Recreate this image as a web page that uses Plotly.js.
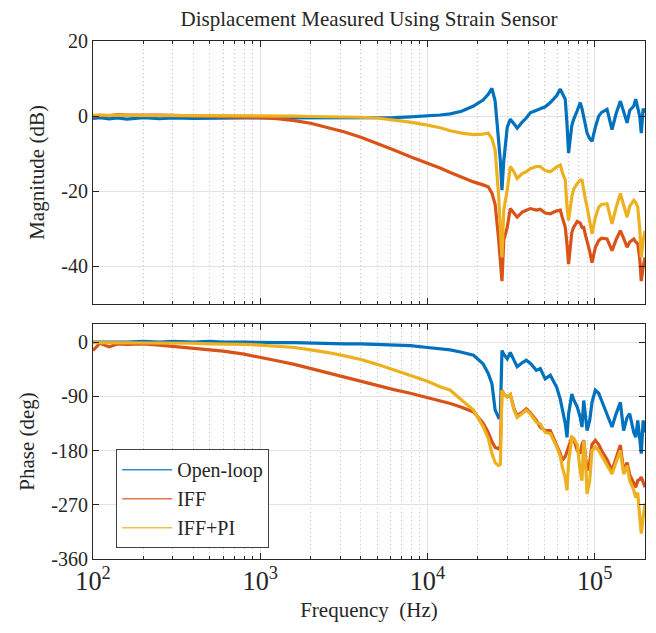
<!DOCTYPE html>
<html>
<head>
<meta charset="utf-8">
<script src="https://cdn.plot.ly/plotly-3.0.1.min.js"></script>
<style>html,body{margin:0;padding:0;background:#fff;}#chart{width:656px;height:633px;}</style>
</head>
<body>
<div id="chart"></div>
<script>
// Frequency (Hz)
const freq = [100,110,125,140,160,200,250,300,400,500,600,800,1000,1260,1600,2000,2500,3200,4000,5000,6300,7900,10000,11900,13700,16000,18850,21500,23100,24300,25400,26600,27300,27900,28600,30000,31300,32900,34400,37000,39000,41200,44800,47300,50600,54300,59300,62300,64100,66700,68300,69800,73000,74800,78700,82000,84000,86000,87900,90100,93400,96400,100900,105700,110000,118600,127000,134000,142500,149000,156300,162000,171400,176000,181000,186000,190000,195000,200000];

// Magnitude (dB)
const magOpenLoop = [-0.6,-0.4,-0.7,-0.5,-0.8,-0.4,-0.7,-0.5,-0.6,-0.5,-0.6,-0.5,-0.5,-0.5,-0.6,-0.5,-0.5,-0.6,-0.5,-0.5,-0.4,-0.2,0.0,0.3,0.6,1.3,2.7,4.3,5.8,7.4,4.0,-5.4,-12,-19.7,-12,-3,-0.8,-2.0,-3.2,-1.5,-0.5,0.9,1.5,1.8,2.5,3.6,5.5,7.2,6.0,4.5,-2,-9.8,-2.5,-0.9,1.5,3.6,2.0,-0.5,-2.7,-4.5,-6.0,-6.7,-3.0,0.0,1.0,1.8,-3.6,0.5,4.0,1.0,-1.8,1.5,2.7,4.5,2.5,0.0,-4.5,2.0,0.9];
const magIFF = [0.0,0.2,0.1,0.4,0.3,0.4,0.3,0.2,0.1,0.0,-0.1,-0.2,-0.4,-0.7,-1.2,-1.9,-2.9,-4.2,-5.6,-7.2,-9.0,-10.8,-12.4,-13.8,-15.0,-16.3,-17.5,-18.3,-18.8,-20.5,-23.5,-32.3,-38,-43.9,-33,-29.6,-24.6,-25.8,-26.9,-25.5,-25.0,-24.6,-25.0,-24.8,-25.8,-26.0,-25.2,-25.0,-27.0,-29.6,-34,-39.4,-31,-29.6,-28.0,-28.5,-29.6,-29.6,-31.5,-33.1,-36.0,-39.0,-35.0,-33.1,-32.5,-32.7,-35.8,-33.0,-30.5,-32.5,-34.9,-33.5,-32.7,-33.5,-34.0,-38.0,-43.9,-40,-37.6];
const magIFFPI = [0.2,0.3,0.2,0.3,0.2,0.2,0.2,0.2,0.1,0.1,0.1,0.1,0.0,0.0,0.0,-0.1,-0.1,-0.2,-0.3,-0.5,-1.0,-1.6,-2.4,-3.1,-3.9,-4.5,-4.9,-4.8,-4.5,-6.0,-9.0,-20.6,-30,-37.6,-25,-19.7,-13.4,-14.8,-16.6,-15.2,-14.8,-14.0,-13.4,-13.4,-14.5,-14.8,-13.5,-13.0,-15.0,-17.0,-24,-27.8,-21.5,-19.5,-17.9,-17.0,-17.0,-20.0,-22.0,-24.2,-28.0,-31.3,-27.0,-24.2,-23.5,-23.3,-28.7,-24.5,-20.6,-24.0,-26.9,-24.0,-22.4,-23.0,-24.2,-30.0,-37.6,-33,-30.5];

// Phase (deg)
const phOpenLoop = [0,0,-1,0,0,1,0,1,0,1,0,0,-1,-1,-1,-2,-2,-3,-3,-4,-5,-6,-9,-11,-13,-17,-22,-36,-52,-69,-113,-125,-122,-14,-20,-28,-17,-30,-41,-34,-30,-35,-47,-44,-61,-55,-75,-95,-113,-135,-158,-120,-86,-95,-108,-125,-141,-97,-120,-147,-130,-100,-80,-85,-97,-120,-141,-120,-100,-147,-125,-119,-150,-158,-130,-160,-185,-130,-150];
const phIFF = [-14,-2,-8,-3,-4,-3,-5,-7,-10,-13,-15,-20,-25,-31,-37,-44,-51,-59,-66,-73,-79,-85,-92,-97,-102,-108,-116,-134,-150,-165,-175,-177,-173,-80,-86,-91,-87,-110,-122,-116,-111,-117,-130,-141,-147,-147,-171,-185,-196,-190,-182,-175,-158,-160,-180,-185,-170,-163,-185,-213,-200,-170,-163,-170,-180,-195,-213,-195,-171,-213,-200,-220,-233,-241,-230,-228,-224,-235,-241];
const phIFFPI = [-1,-1,-1,-1,-1,-1,-2,-2,-2,-3,-3,-4,-5,-7,-9,-13,-17,-23,-29,-37,-46,-55,-65,-74,-80,-96,-113,-140,-160,-185,-200,-205,-203,-80,-86,-91,-87,-112,-125,-118,-113,-119,-133,-136,-150,-152,-174,-190,-208,-225,-246,-200,-158,-160,-170,-215,-230,-163,-190,-252,-230,-180,-174,-180,-188,-205,-219,-200,-180,-219,-205,-230,-246,-258,-250,-290,-318,-290,-268];

const seriesNames = ['Open-loop','IFF','IFF+PI'];
const colors = ['#0072BD','#D95319','#EDB120'];
const mags = [magOpenLoop, magIFF, magIFFPI];
const phs = [phOpenLoop, phIFF, phIFFPI];

const traces = [];
for (let i = 0; i < 3; i++) {
  traces.push({x: freq, y: mags[i], type: 'scatter', mode: 'lines', name: seriesNames[i],
    line: {color: colors[i], width: 3.2}, xaxis: 'x', yaxis: 'y', showlegend: false});
}
for (let i = 0; i < 3; i++) {
  traces.push({x: freq, y: phs[i], type: 'scatter', mode: 'lines', name: seriesNames[i],
    line: {color: colors[i], width: 3.2}, xaxis: 'x2', yaxis: 'y2', showlegend: false});
}
// legend entries (thin lines as in the reference legend); no points drawn
for (let i = 0; i < 3; i++) {
  traces.push({x: [freq[0]], y: [null], type: 'scatter', mode: 'lines', name: seriesNames[i],
    line: {color: colors[i], width: 1.6}, xaxis: 'x2', yaxis: 'y2', showlegend: true, opacity: 0.8,
    hoverinfo: 'skip'});
}

const FAM = '"Liberation Serif", "Times New Roman", serif';
const TXT = '#262626';
const axisLine = '#262626';
const gridMajor = '#e2e2e2';
const minorSpec = {dtick: 'D1', ticks: 'inside', ticklen: 3, tickcolor: axisLine,
  showgrid: true, gridcolor: '#c4c4c4', griddash: '1px,3px', gridwidth: 1};

const xBase = {
  type: 'log', range: [2, Math.log10(200000)], dtick: 1, exponentformat: 'power',
  showline: true, linecolor: axisLine, linewidth: 1, mirror: 'ticks',
  ticks: 'inside', ticklen: 6, tickcolor: axisLine,
  showgrid: true, gridcolor: gridMajor, gridwidth: 1, zeroline: false,
  minor: minorSpec, tickfont: {family: FAM, size: 21, color: TXT}
};
const yBase = {
  showline: true, linecolor: axisLine, mirror: 'ticks', ticks: 'inside', ticklen: 6, tickcolor: axisLine,
  showgrid: true, gridcolor: gridMajor, zeroline: false, tickfont: {family: FAM, size: 20, color: TXT}
};

const layout = {
  width: 656, height: 633,
  margin: {l: 93, r: 11, t: 41, b: 74},
  paper_bgcolor: '#fff', plot_bgcolor: '#fff',
  font: {family: FAM, size: 19, color: TXT},
  title: {text: 'Displacement Measured Using Strain Sensor', font: {family: FAM, size: 21, color: TXT},
    x: 0.5, xref: 'paper', xanchor: 'center', y: 0.97, yanchor: 'middle'},
  xaxis: Object.assign({}, xBase, {anchor: 'y', showticklabels: false, matches: 'x2'}),
  xaxis2: Object.assign({}, xBase, {anchor: 'y2',
    title: {text: 'Frequency\u00a0 (Hz)', font: {family: FAM, size: 21, color: TXT}, standoff: 6}}),
  yaxis: Object.assign({}, yBase, {domain: [0.4923, 1], range: [-50, 20], tickvals: [-40, -20, 0, 20], ticktext: ['-40', '-20', '0', '20'],
    title: {text: 'Magnitude (dB)', font: {family: FAM, size: 21, color: TXT}, standoff: 10}}),
  yaxis2: Object.assign({}, yBase, {domain: [0, 0.4537], range: [-360, 30], tickvals: [-360, -270, -180, -90, 0], ticktext: ['-360', '-270', '-180', '-90', '0'],
    title: {text: 'Phase (deg)', font: {family: FAM, size: 21, color: TXT}, standoff: 10}}),
  legend: {x: 0.042, y: 0.212, xanchor: 'left', yanchor: 'top', bgcolor: '#fff', bordercolor: '#404040', borderwidth: 1,
    font: {family: FAM, size: 20, color: TXT}, tracegroupgap: 0, itemwidth: 50}
};

Plotly.newPlot('chart', traces, layout, {staticPlot: true, displayModeBar: false});
</script>
</body>
</html>
